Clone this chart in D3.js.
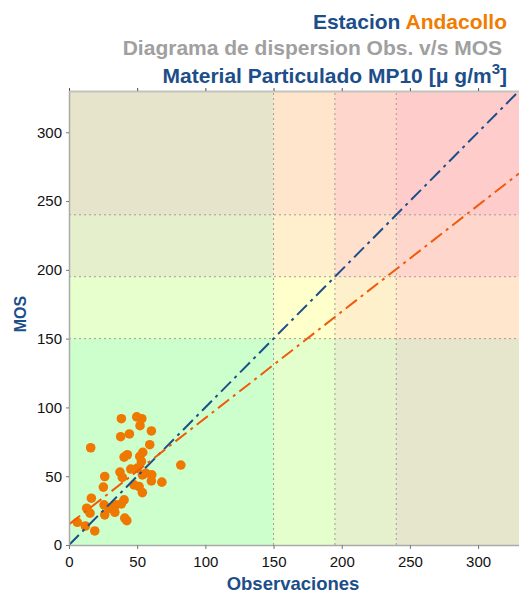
<!DOCTYPE html>
<html>
<head>
<meta charset="utf-8">
<script src="https://cdn.jsdelivr.net/npm/d3@7"></script>
<style>
  body { margin: 0; background: #fff; }
  text { font-family: "Liberation Sans", Arial, Helvetica, sans-serif; }
</style>
</head>
<body>
<script>
// observaciones vs MOS, MP10 Andacollo
var obs = [38.4, 49.7, 53.4, 52.1, 60.4, 37.9, 44.3, 15.9, 59.2, 40.4, 42.8, 54.1, 51.9, 53.1,
           82.0, 37.4, 45.3, 50.1, 26.2, 39.1, 53.8, 56.3, 60.7, 60.4, 68.1, 47.7, 51.4, 53.8,
           25.2, 16.4, 13.0, 15.4, 25.7, 29.4, 34.3, 38.4, 40.4, 33.6, 26.2, 6.1, 12.0, 18.9,
           40.9, 42.4];
var mos = [91.8, 93.1, 91.8, 86.7, 82.9, 78.7, 80.7, 70.7, 72.9, 63.9, 65.6, 67.3, 64.4, 60.7,
           58.1, 53.0, 55.2, 55.9, 49.8, 49.1, 51.0, 52.2, 51.0, 46.6, 45.7, 43.7, 42.5, 38.1,
           42.1, 34.0, 26.7, 23.1, 29.2, 26.7, 29.2, 29.9, 32.8, 23.8, 21.9, 16.5, 13.8, 10.2,
           19.5, 17.7];
var limites = [0, 150, 195, 240, 330];
var coloresBanda = ["#ccffcc", "#ffffcc", "#ffe0cc", "#ffcccc"];
var ticks = [0, 50, 100, 150, 200, 250, 300];
var ajuste = {a: 15, b: 0.773};   // MOS = a + b*obs

var width = 519, height = 594;
var margin = {left: 69, top: 91, right: 0, bottom: 49};
var azul = "#1c4e89", naranjo = "#f07c00";

var svg = d3.select("body").append("svg")
    .attr("width", width)
    .attr("height", height);

var x = d3.scaleLinear().domain([0, 330]).range([margin.left, width - margin.right]);
var y = d3.scaleLinear().domain([0, 330]).range([height - margin.bottom, margin.top]);

svg.append("defs").append("clipPath").attr("id", "area")
  .append("rect")
    .attr("x", x(0)).attr("y", y(330))
    .attr("width", x(330) - x(0)).attr("height", y(0) - y(330));

var bandas = d3.range(4);
var plot = svg.append("g").attr("clip-path", "url(#area)");

// bandas verticales (obs) y horizontales (MOS) mezcladas a 50%
plot.selectAll("rect.v").data(bandas).enter().append("rect")
    .attr("class", "v")
    .attr("x", function(i) { return x(limites[i]); })
    .attr("y", y(330))
    .attr("width", function(i) { return x(limites[i + 1]) - x(limites[i]); })
    .attr("height", y(0) - y(330))
    .attr("fill", function(i) { return coloresBanda[i]; });

plot.selectAll("rect.h").data(bandas).enter().append("rect")
    .attr("class", "h")
    .attr("x", x(0))
    .attr("y", function(i) { return y(limites[i + 1]); })
    .attr("width", x(330) - x(0))
    .attr("height", function(i) { return y(limites[i]) - y(limites[i + 1]); })
    .attr("fill", function(i) { return coloresBanda[i]; })
    .attr("fill-opacity", 0.5);

// grilla punteada en los limites
var lim = limites.slice(1, 4);
plot.selectAll("line.gx").data(lim).enter().append("line")
    .attr("x1", function(d) { return x(d); }).attr("x2", function(d) { return x(d); })
    .attr("y1", y(0)).attr("y2", y(330))
    .attr("stroke", "#a49c94").attr("stroke-dasharray", "2,3");
plot.selectAll("line.gy").data(lim).enter().append("line")
    .attr("y1", function(d) { return y(d); }).attr("y2", function(d) { return y(d); })
    .attr("x1", x(0)).attr("x2", x(330))
    .attr("stroke", "#a49c94").attr("stroke-dasharray", "2,3");

// puntos
plot.selectAll("circle").data(obs).enter().append("circle")
    .attr("cx", function(d) { return x(d); })
    .attr("cy", function(d, i) { return y(mos[i]); })
    .attr("r", 4.8)
    .attr("fill", "#ef7800");

// recta 1:1 y ajuste
plot.append("line")
    .attr("x1", x(0)).attr("y1", y(0)).attr("x2", x(330)).attr("y2", y(330))
    .attr("stroke", azul).attr("stroke-width", 2)
    .attr("stroke-dasharray", "14,5,3,5");
plot.append("line")
    .attr("x1", x(0)).attr("y1", y(ajuste.a))
    .attr("x2", x(330)).attr("y2", y(ajuste.a + ajuste.b * 330))
    .attr("stroke", "#f05a0a").attr("stroke-width", 2)
    .attr("stroke-dasharray", "14,5,3,5");

// ejes
function estilo(g) {
  g.select(".domain").attr("stroke", "#aaa").attr("stroke-width", 1.5);
  g.selectAll(".tick line").attr("stroke", "#777");
  g.selectAll(".tick text").attr("fill", "#111").style("font-size", "15px")
    .style("font-family", "'Liberation Sans', Arial, sans-serif");
}
svg.append("g")
    .attr("transform", "translate(" + x(0) + ",0)")
    .call(d3.axisLeft(y).tickValues(ticks).tickSize(3).tickSizeOuter(0).tickPadding(4))
    .call(estilo);
svg.append("g")
    .attr("transform", "translate(0," + y(0) + ")")
    .call(d3.axisBottom(x).tickValues(ticks).tickSize(4).tickSizeOuter(0).tickPadding(7))
    .call(estilo);
svg.append("g")
    .attr("transform", "translate(0," + y(330) + ")")
    .call(d3.axisTop(x).tickValues(ticks).tickSize(3).tickSizeOuter(0).tickFormat(""))
    .call(function(g) {
      g.select(".domain").attr("stroke", "#c4c4bc").attr("stroke-width", 2);
      g.selectAll(".tick line").attr("stroke", "#555");
    });

// titulos de ejes
svg.append("text")
    .attr("x", 293).attr("y", 590)
    .attr("text-anchor", "middle")
    .attr("fill", azul).style("font-size", "18.5px").style("font-weight", "bold")
    .text("Observaciones");
svg.append("text")
    .attr("transform", "translate(26,314) rotate(-90)")
    .attr("text-anchor", "middle")
    .attr("fill", azul).style("font-size", "16px").style("font-weight", "bold")
    .text("MOS");

// titulo
var t1 = svg.append("text").attr("x", 507).attr("y", 29).attr("text-anchor", "end")
    .style("font-size", "21px").style("font-weight", "bold");
t1.append("tspan").attr("fill", azul).text("Estacion ");
t1.append("tspan").attr("fill", naranjo).text("Andacollo");

svg.append("text").attr("x", 502).attr("y", 55).attr("text-anchor", "end")
    .style("font-size", "21px").style("font-weight", "bold")
    .attr("fill", "#a0a0a0")
    .text("Diagrama de dispersion Obs. v/s MOS");

var t3 = svg.append("text").attr("x", 507).attr("y", 83).attr("text-anchor", "end")
    .style("font-size", "21px").style("font-weight", "bold").attr("fill", azul);
t3.append("tspan").text("Material Particulado MP10 [\u03bc g/m");
t3.append("tspan").attr("dy", -9).style("font-size", "15px").text("3");
t3.append("tspan").attr("dy", 9).text("]");
</script>
</body>
</html>
